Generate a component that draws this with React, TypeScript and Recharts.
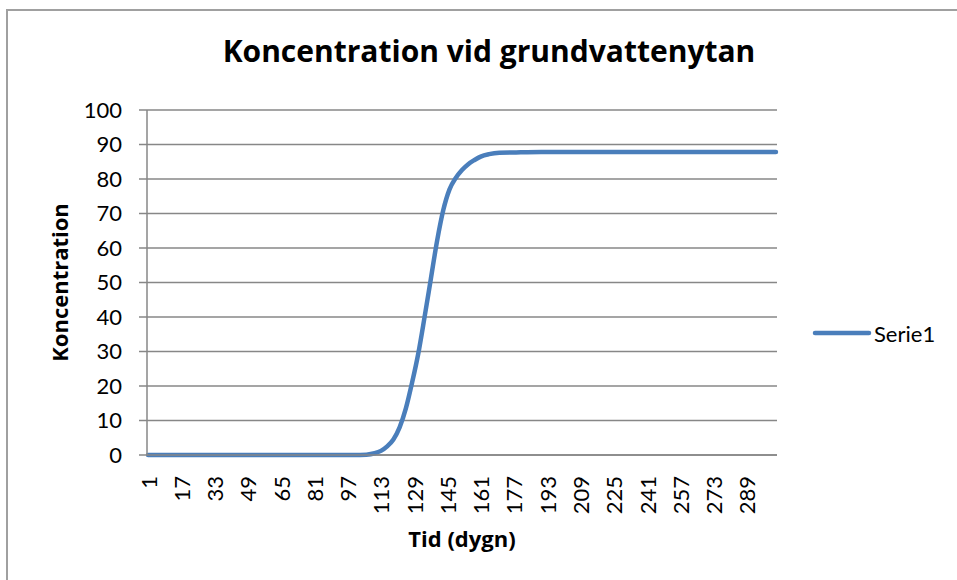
import React from 'react';
import { LineChart, Line, XAxis, YAxis, CartesianGrid, Legend, Label } from 'recharts';

const days = [1, 100, 106, 110, 113, 116, 119, 122, 125, 128, 131, 134, 137, 140, 143, 146, 149, 152, 155, 158, 161, 165, 170, 178, 190, 303];
const concentration = [0, 0, 0.1, 0.5, 1.2, 2.5, 4.5, 8, 13.5, 21, 29.5, 40, 51, 62, 71, 77, 80.3, 82.6, 84.3, 85.5, 86.5, 87.2, 87.6, 87.7, 87.8, 87.8];
const xTicks = [1, 17, 33, 49, 65, 81, 97, 113, 129, 145, 161, 177, 193, 209, 225, 241, 257, 273, 289];
const yTicks = [0, 10, 20, 30, 40, 50, 60, 70, 80, 90, 100];
const seriesName = 'Serie1';
const title = 'Koncentration vid grundvattenytan';
const xTitle = 'Tid (dygn)';
const yTitle = 'Koncentration';

const data = days.map((d, i) => ({ day: d, value: concentration[i] }));

const FONT = 'Lato, "Open Sans", sans-serif';
const BOLD_FONT = '"Open Sans", Lato, sans-serif';
const BLUE = '#4a7ebb';
const GRID = '#878787';

const XTick = (props: any) => {
  const { x, y, payload } = props;
  return (
    <text
      x={x}
      y={y}
      transform={`rotate(-90, ${x}, ${y})`}
      textAnchor="end"
      dominantBaseline="central"
      fontSize={22}
      fontFamily={FONT}
      fill="#000"
    >
      {payload.value}
    </text>
  );
};

const LegendContent = () => (
  <svg width={140} height={30} style={{ overflow: 'visible' }}>
    <line x1={3} y1={13} x2={57} y2={13} stroke={BLUE} strokeWidth={4.5} strokeLinecap="round" />
    <text x={62} y={13} dominantBaseline="central" fontSize={22} fontFamily={FONT} fill="#000">
      {seriesName}
    </text>
  </svg>
);

export default function App() {
  return (
    <div style={{ position: 'absolute', left: 0, top: 0, width: 957, height: 580, overflow: 'hidden', background: '#fff' }}>
      <div
        style={{
          position: 'absolute',
          left: 6,
          top: 9,
          width: 1100,
          height: 1100,
          border: '2px solid #a0a0a0',
        }}
      />
      <div
        style={{
          position: 'absolute',
          left: 489,
          top: 36,
          transform: 'translateX(-50%)',
          whiteSpace: 'nowrap',
          fontFamily: BOLD_FONT,
          fontWeight: 700,
          fontSize: 30,
          lineHeight: '30px',
          color: '#000',
        }}
      >
        {title}
      </div>
      <div style={{ position: 'absolute', left: 0, top: 0 }}>
        <LineChart width={957} height={580} data={data} margin={{ top: 110, right: 180, bottom: 0, left: 0 }}>
          <CartesianGrid vertical={false} stroke={GRID} strokeWidth={1.5} />
          <XAxis
            dataKey="day"
            type="number"
            domain={[0.5, 303.5]}
            ticks={xTicks}
            interval={0}
            height={125}
            tickSize={0}
            tickMargin={21}
            tickLine={false}
            axisLine={{ stroke: GRID, strokeWidth: 1.5 }}
            tick={<XTick />}
          >
            <Label
              content={(p: any) => {
                const vb = p.viewBox;
                return (
                  <text
                    x={vb.x + vb.width / 2}
                    y={vb.y + 83}
                    textAnchor="middle"
                    dominantBaseline="central"
                    fontSize={22}
                    fontWeight={700}
                    fontFamily={BOLD_FONT}
                    fill="#000"
                  >
                    {xTitle}
                  </text>
                );
              }}
            />
          </XAxis>
          <YAxis
            type="number"
            domain={[0, 100]}
            ticks={yTicks}
            interval={0}
            width={147}
            tickSize={8}
            tickMargin={17}
            tickLine={{ stroke: GRID, strokeWidth: 1.5 }}
            axisLine={{ stroke: GRID, strokeWidth: 1.5 }}
            tick={{ fontSize: 22, fontFamily: FONT, fill: '#000' }}
          >
            <Label
              content={(p: any) => {
                const vb = p.viewBox;
                const cx = vb.x + 59;
                const cy = vb.y + vb.height / 2;
                return (
                  <text
                    x={cx}
                    y={cy}
                    transform={`rotate(-90, ${cx}, ${cy})`}
                    textAnchor="middle"
                    dominantBaseline="central"
                    fontSize={22}
                    fontWeight={700}
                    fontFamily={BOLD_FONT}
                    fill="#000"
                  >
                    {yTitle}
                  </text>
                );
              }}
            />
          </YAxis>
          <Legend
            layout="horizontal"
            align="center"
            verticalAlign="middle"
            content={<LegendContent />}
            wrapperStyle={{ position: 'absolute', left: 812, top: 320, width: 140 }}
          />
          <Line
            type="monotone"
            dataKey="value"
            name={seriesName}
            stroke={BLUE}
            strokeWidth={4.5}
            strokeLinecap="round"
            dot={false}
            activeDot={false}
            isAnimationActive={false}
          />
        </LineChart>
      </div>
    </div>
  );
}
